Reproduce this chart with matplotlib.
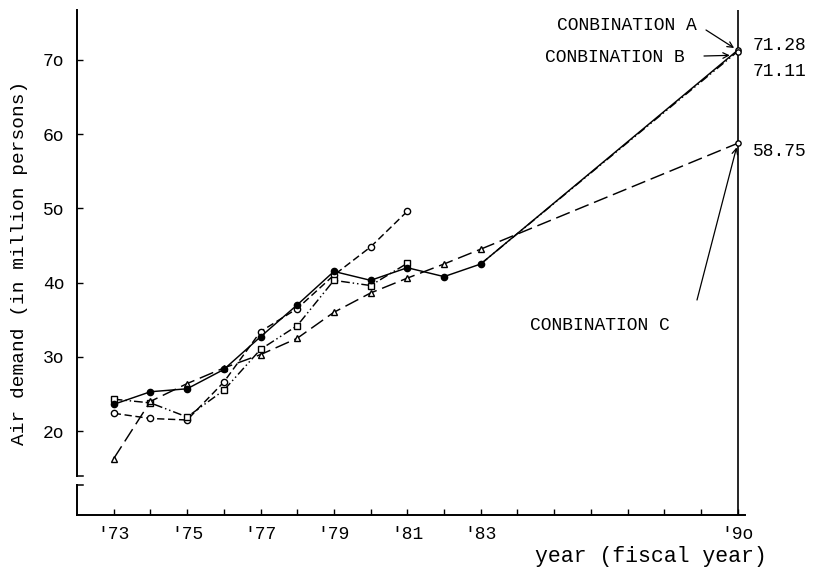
import matplotlib
matplotlib.use("Agg")
import matplotlib.pyplot as plt

plt.rcParams['font.family'] = ['Liberation Mono', 'DejaVu Sans Mono']

# Fiscal years (two-digit) and demand, million persons
years_hist = [73, 74, 75, 76, 77, 78, 79, 80, 81, 82, 83]
actual = [23.6, 25.3, 25.7, 28.3, 32.7, 37.0, 41.5, 40.3, 42.0, 40.8, 42.5]

years_fit = [73, 74, 75, 76, 77, 78, 79, 80, 81]
model_circle = [22.4, 21.7, 21.5, 26.6, 33.4, 36.5, 41.0, 44.8, 49.6]
model_square = [24.3, 23.8, 21.9, 25.5, 31.0, 34.2, 40.3, 39.6, 42.6]

years_tri = [73, 74, 75, 76, 77, 78, 79, 80, 81, 82, 83]
model_tri = [16.3, 24.0, 26.4, 28.5, 30.3, 32.5, 36.0, 38.6, 40.6, 42.5, 44.5]

# Projections to fiscal 1990
proj_years = [83, 90]
comb_a = [42.5, 71.28]
comb_b = [42.5, 71.11]
comb_c = [44.5, 58.75]

ytick_vals = [20, 30, 40, 50, 60, 70]
ytick_labels = ["2o", "3o", "4o", "5o", "6o", "7o"]
xtick_vals = [73, 75, 77, 79, 81, 83, 90]
xtick_labels = ["'73", "'75", "'77", "'79", "'81", "'83", "'9o"]

fig = plt.figure(figsize=(8.21, 5.71), dpi=100)
ax = fig.add_axes([0.0938, 0.098, 0.8136, 0.8845])
ax.set_xlim(72.0, 90.2)
ax.set_ylim(8.7, 76.7)

lw = 1.05
ms = 4.5
dash_short = (0, (5, 2.5))
dash_dd = (0, (6, 2, 1, 2, 1, 2))
dash_long = (0, (10, 4))

ax.plot(years_hist, actual, '-', color='black', lw=lw, marker='o', ms=ms,
        mfc='black', mec='black', zorder=5)
ax.plot(years_fit, model_circle, linestyle=dash_short, color='black', lw=lw,
        marker='o', ms=ms, mfc='white', mec='black', zorder=4)
ax.plot(years_fit, model_square, linestyle=dash_dd, color='black', lw=lw,
        marker='s', ms=ms, mfc='white', mec='black', zorder=4)
ax.plot(years_tri, model_tri, linestyle=dash_long, color='black', lw=lw,
        marker='^', ms=ms, mfc='white', mec='black', zorder=4)

ax.plot(proj_years, comb_a, '-', color='black', lw=lw, zorder=3)
ax.plot(proj_years, comb_b, linestyle=dash_dd, color='black', lw=lw, zorder=3)
ax.plot(proj_years, comb_c, linestyle=dash_long, color='black', lw=lw, zorder=3)
for vals in (comb_a, comb_b, comb_c):
    ax.plot(proj_years[-1], vals[-1], 'o', ms=3.8, mfc='white', mec='black',
            mew=1.0, zorder=6)

# vertical rule at the target year
ax.axvline(90, color='black', lw=1.2, zorder=2)

# axes frame: broken left axis, plain bottom axis
for s in ('top', 'right', 'left'):
    ax.spines[s].set_visible(False)
ax.spines['bottom'].set_linewidth(1.4)
ytr = ax.get_yaxis_transform()
brk_hi, brk_lo = 13.9, 12.8
ax.plot([0, 0], [76.7, brk_hi], color='black', lw=1.4, transform=ytr,
        clip_on=False)
ax.plot([0, 0], [brk_lo, 8.7], color='black', lw=1.4, transform=ytr,
        clip_on=False)
ax.plot([0, 0.009], [brk_hi, brk_hi], color='black', lw=1.1, transform=ytr,
        clip_on=False)
ax.plot([0, 0.009], [brk_lo, brk_lo], color='black', lw=1.1, transform=ytr,
        clip_on=False)

ax.set_yticks(ytick_vals)
ax.set_yticklabels(ytick_labels, fontsize=13)
ax.set_xticks(xtick_vals)
ax.set_xticklabels(xtick_labels, fontsize=13)
ax.set_xticks(list(range(73, 91)), minor=True)
ax.tick_params(axis='y', direction='in', length=4.5, width=1, pad=9)
ax.tick_params(axis='x', which='both', direction='in', length=4, width=1,
               pad=8)

ax.set_ylabel("Air demand (in million persons)", fontsize=14, labelpad=11)
fig.text(0.652, 0.026, "year (fiscal year)", fontsize=15.5, ha='left',
         va='center')

# value labels at 1990
ax.text(90.42, comb_a[-1] + 0.7, "71.28", fontsize=13, va='center')
ax.text(90.42, comb_b[-1] - 2.7, "71.11", fontsize=13, va='center')
ax.text(90.42, comb_c[-1] - 1.1, "58.75", fontsize=13, va='center')

# combination labels with pointers
arrow = dict(arrowstyle='->', color='black', lw=0.9, shrinkA=0, shrinkB=3)
fig.text(557 / 821, 1 - 25 / 571, "CONBINATION A", fontsize=13, va='center')
ax.annotate("", xy=(90, comb_a[-1]), xycoords='data',
            xytext=(706, 571 - 30), textcoords='figure pixels',
            arrowprops=arrow)
fig.text(545 / 821, 1 - 58 / 571, "CONBINATION B", fontsize=13, va='center')
ax.annotate("", xy=(89.9, comb_b[-1] - 0.5), xycoords='data',
            xytext=(704, 571 - 56), textcoords='figure pixels',
            arrowprops=arrow)
fig.text(530 / 821, 1 - 326 / 571, "CONBINATION C", fontsize=13, va='center')
ax.annotate("", xy=(90, comb_c[-1]), xycoords='data',
            xytext=(697, 571 - 300), textcoords='figure pixels',
            arrowprops=arrow)

fig.savefig("out.png", dpi=100, facecolor='white')
